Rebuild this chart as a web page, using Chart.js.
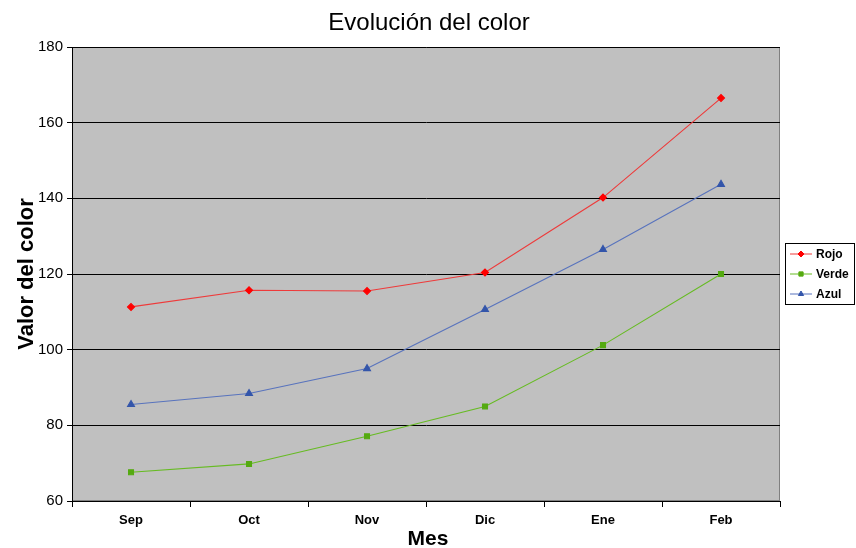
<!DOCTYPE html>
<html>
<head>
<meta charset="utf-8">
<script src="https://cdn.jsdelivr.net/npm/chart.js@4"></script>
<style>
  html, body { margin: 0; padding: 0; background: #ffffff; }
  #wrap { width: 856px; height: 548px; }
</style>
</head>
<body>
<div id="wrap"><canvas id="myChart" width="856" height="548"></canvas></div>
<script>
// datos
const meses = ['Sep', 'Oct', 'Nov', 'Dic', 'Ene', 'Feb'];
const rojo  = [111.3, 115.7, 115.5, 120.4, 140.2, 166.5];
const verde = [67.6, 69.8, 77.1, 85.0, 101.2, 120.0];
const azul  = [85.5, 88.4, 95.0, 110.6, 126.5, 143.7];
const yTicks = [60, 80, 100, 120, 140, 160, 180];

const FUENTE = '"Liberation Sans", Arial, sans-serif';

// fondo gris del area de trazado
const fondoPlot = {
  id: 'fondoPlot',
  beforeDraw(chart) {
    const a = chart.chartArea, ctx = chart.ctx;
    ctx.save();
    ctx.fillStyle = '#c0c0c0';
    ctx.fillRect(a.left, a.top, a.right - a.left, a.bottom - a.top);
    ctx.strokeStyle = '#808080';
    ctx.lineWidth = 1;
    ctx.strokeRect(a.left + 0.5, a.top + 0.5, a.right - a.left - 1, a.bottom - a.top - 1);
    ctx.restore();
  }
};

// titulo del grafico y del eje x, centrados en todo el ancho
const titulos = {
  id: 'titulos',
  afterDraw(chart) {
    const ctx = chart.ctx;
    ctx.save();
    ctx.fillStyle = '#000000';
    ctx.textAlign = 'center';
    ctx.textBaseline = 'middle';
    ctx.font = '24px ' + FUENTE;
    ctx.fillText('Evolución del color', chart.width / 2 + 1, 23);
    ctx.font = 'bold 21px ' + FUENTE;
    ctx.fillText('Mes', chart.width / 2, 539);
    ctx.restore();
  }
};

// leyenda a la derecha con linea + marcador
const leyenda = {
  id: 'leyenda',
  afterDraw(chart) {
    const ctx = chart.ctx;
    const x = 785, y = 243, w = 70, h = 62;
    ctx.save();
    ctx.fillStyle = '#ffffff';
    ctx.fillRect(x, y, w, h);
    ctx.strokeStyle = '#000000';
    ctx.lineWidth = 1;
    ctx.strokeRect(x + 0.5, y + 0.5, w - 1, h - 1);
    ctx.font = 'bold 12px ' + FUENTE;
    ctx.textBaseline = 'middle';
    chart.data.datasets.forEach((ds, i) => {
      const cy = y + 11 + i * 20;
      ctx.strokeStyle = ds.borderColor;
      ctx.beginPath();
      ctx.moveTo(x + 5, cy);
      ctx.lineTo(x + 27, cy);
      ctx.stroke();
      ctx.fillStyle = ds.pointBackgroundColor;
      ctx.strokeStyle = ds.pointBackgroundColor;
      Chart.helpers.drawPoint(ctx, {pointStyle: ds.pointStyle, radius: 3, rotation: 0, borderWidth: 1}, x + 16, cy);
      ctx.fillStyle = '#000000';
      ctx.fillText(ds.label, x + 31, cy + 1);
    });
    ctx.restore();
  }
};

const data = {
  labels: meses,
  datasets: [
    {
      label: 'Rojo',
      data: rojo,
      borderColor: '#ee3a3a',
      backgroundColor: '#ff0000',
      pointBackgroundColor: '#ff0000',
      pointBorderColor: '#ff0000',
      pointStyle: 'rectRot',
      pointRadius: 3.5,
      borderWidth: 1.1,
      tension: 0
    },
    {
      label: 'Verde',
      data: verde,
      borderColor: '#66bb22',
      backgroundColor: '#55aa11',
      pointBackgroundColor: '#55aa11',
      pointBorderColor: '#55aa11',
      pointStyle: 'rect',
      pointRadius: 3.5,
      borderWidth: 1.1,
      tension: 0
    },
    {
      label: 'Azul',
      data: azul,
      borderColor: '#5873bd',
      backgroundColor: '#3355aa',
      pointBackgroundColor: '#3355aa',
      pointBorderColor: '#3355aa',
      pointStyle: 'triangle',
      pointRadius: 4,
      borderWidth: 1.1,
      tension: 0
    }
  ]
};

const config = {
  type: 'line',
  data: data,
  options: {
    responsive: false,
    animation: false,
    layout: { padding: { left: 0, right: 76, top: 47, bottom: 14 } },
    plugins: {
      legend: { display: false },
      tooltip: { enabled: false },
      title: { display: false }
    },
    scales: {
      x: {
        offset: true,
        grid: { offset: true, drawOnChartArea: false, color: '#000000', tickLength: 6 },
        border: { color: '#000000', width: 1 },
        ticks: {
          color: '#000000',
          padding: 7,
          font: { family: FUENTE, size: 13, weight: 'bold', lineHeight: 1 }
        },
        title: { display: false }
      },
      y: {
        min: 60,
        max: 180,
        afterBuildTicks(axis) { axis.ticks = yTicks.map(v => ({ value: v })); },
        grid: { color: '#000000', lineWidth: 1, tickLength: 5, tickColor: '#000000' },
        border: { color: '#000000', width: 1 },
        ticks: {
          color: '#000000',
          padding: 4,
          font: { family: FUENTE, size: 15 }
        },
        title: {
          display: true,
          text: 'Valor del color',
          color: '#000000',
          padding: { top: 16, bottom: -4 },
          font: { family: FUENTE, size: 22, weight: 'bold', lineHeight: 1 }
        }
      }
    }
  },
  plugins: [fondoPlot, titulos, leyenda]
};

const myChart = new Chart(document.getElementById('myChart'), config);
</script>
</body>
</html>
